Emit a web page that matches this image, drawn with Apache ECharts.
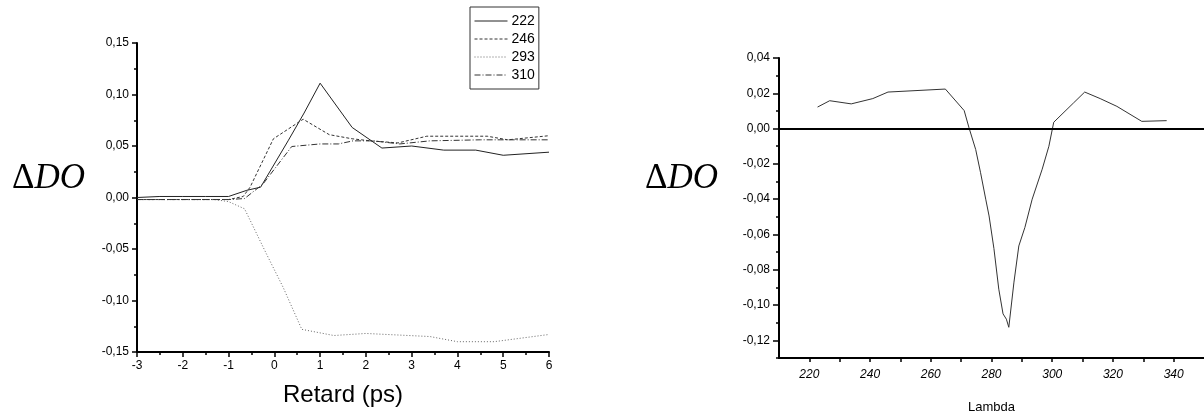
<!DOCTYPE html>
<html>
<head>
<meta charset="utf-8">
<script src="https://cdn.jsdelivr.net/npm/echarts@6/dist/echarts.min.js"></script>
<style>
html,body{margin:0;padding:0;background:#fff;}
#c{width:1204px;height:419px;}
</style>
</head>
<body>
<div id="c"></div>
<script>
// Left panel: kinetics, [delay (ps), ΔDO]
const seriesNames = ['222', '246', '293', '310'];
const s222 = [[-3,0],[-2.5,0.001],[-2,0.001],[-1.5,0.001],[-1,0.001],[-0.6,0.007],[-0.3,0.010],[0.3,0.055],[0.65,0.082],[1.0,0.111],[1.7,0.068],[2.35,0.048],[3.0,0.050],[3.7,0.046],[4.4,0.046],[5.0,0.041],[6.0,0.044]];
const s246 = [[-3,-0.002],[-2,-0.002],[-1,-0.002],[-0.68,0.001],[-0.53,0.010],[-0.02,0.057],[0.63,0.076],[1.2,0.061],[1.7,0.057],[2.1,0.055],[2.7,0.053],[3.33,0.0595],[4.65,0.0595],[5.1,0.056],[6.0,0.060]];
const s293 = [[-3,-0.002],[-2,-0.002],[-1.3,-0.002],[-1,-0.004],[-0.65,-0.011],[-0.17,-0.055],[0.19,-0.087],[0.6,-0.128],[1.3,-0.134],[2.0,-0.132],[3.4,-0.135],[4.0,-0.140],[4.8,-0.140],[6.0,-0.133]];
const s310 = [[-3,-0.002],[-1,-0.002],[-0.65,-0.001],[-0.25,0.013],[0.38,0.0495],[1.0,0.052],[1.4,0.052],[1.72,0.055],[2.16,0.055],[2.74,0.052],[3.4,0.055],[4.5,0.056],[6.0,0.056]];

// Right panel: spectrum, [lambda, ΔDO]
const spectrum = [[222.7,0.0122],[226.7,0.0158],[233.8,0.014],[240.9,0.017],[245.9,0.0207],[264.8,0.0224],[271,0.0102],[272.6,0.0004],[274.8,-0.0119],[276.4,-0.025],[278.1,-0.040],[279.2,-0.0495],[280.8,-0.068],[282.4,-0.091],[283.8,-0.105],[284.9,-0.108],[285.7,-0.1126],[287.4,-0.087],[289,-0.0665],[291,-0.056],[293.4,-0.040],[296.7,-0.023],[298.9,-0.010],[300.5,0.0036],[307,0.0145],[310.7,0.0207],[315.8,0.017],[321.3,0.0126],[329.5,0.0041],[337.7,0.0045]];

const rightMajorY = [-0.12,-0.10,-0.08,-0.06,-0.04,-0.02,0,0.02,0.04];

const comma = v => v.toFixed(2).replace('.', ',');
const FONT = 'Liberation Sans';

const chart = echarts.init(document.getElementById('c'), null, {renderer:'canvas'});

const axisLine = {show:true, onZero:false, lineStyle:{color:'#000', width:2}};

const option = {
  backgroundColor:'#fff',
  animation:false,
  textStyle:{fontFamily:FONT, color:'#000'},
  legend:{
    data:seriesNames,
    orient:'vertical',
    left:470, top:7,
    padding:[7,4,7,4],
    itemGap:4,
    itemWidth:33, itemHeight:14,
    borderColor:'#333', borderWidth:1,
    itemStyle:{opacity:0},
    lineStyle:{width:1},
    textStyle:{fontFamily:FONT, fontSize:14, color:'#000', padding:[0,0,0,-1]}
  },
  grid:[
    {left:137, top:43, width:412, height:309},
    {left:779, top:58, width:425, height:301}
  ],
  xAxis:[
    {gridIndex:0, type:'value', min:-3, max:6, interval:1,
     name:'Retard (ps)', nameLocation:'middle', nameGap:31,
     nameTextStyle:{fontFamily:FONT, fontSize:24, color:'#000'},
     axisLine:axisLine,
     axisTick:{show:true, inside:false, length:5, lineStyle:{color:'#000', width:1.5}},
     minorTick:{show:true, splitNumber:2, length:3, lineStyle:{color:'#000', width:1.5}},
     axisLabel:{fontFamily:FONT, fontSize:12, color:'#000', margin:8},
     splitLine:{show:false}},
    {gridIndex:1, type:'value', min:210, max:350, interval:10,
     name:'Lambda', nameLocation:'middle', nameGap:43,
     nameTextStyle:{fontFamily:FONT, fontSize:13, color:'#000'},
     axisLine:axisLine,
     axisTick:{show:true, inside:false, length:4, lineStyle:{color:'#000', width:1.5}},
     axisLabel:{fontFamily:FONT, fontSize:12, fontStyle:'italic', color:'#000', margin:11,
       showMinLabel:false, showMaxLabel:false,
       formatter:v => (Math.round(v) % 20 === 0 ? String(Math.round(v)) : '')},
     splitLine:{show:false}}
  ],
  yAxis:[
    {gridIndex:0, type:'value', min:-0.15, max:0.15, interval:0.05,
     axisLine:axisLine,
     axisTick:{show:true, inside:false, length:5, lineStyle:{color:'#000', width:1.5}},
     minorTick:{show:true, splitNumber:2, length:3, lineStyle:{color:'#000', width:1.5}},
     axisLabel:{fontFamily:FONT, fontSize:12, color:'#000', margin:8, formatter:comma},
     splitLine:{show:false}},
    {gridIndex:1, type:'value', min:-0.13, max:0.04, interval:0.01,
     axisLine:axisLine,
     axisTick:{show:true, inside:false, length:6, customValues:rightMajorY, lineStyle:{color:'#000', width:1.5}},
     axisLabel:{fontFamily:FONT, fontSize:12, color:'#000', margin:9, customValues:rightMajorY,
       formatter:comma},
     splitLine:{show:false}},
    {gridIndex:1, type:'value', min:-0.13, max:0.04, interval:0.01, position:'left', offset:0,
     axisLine:{show:false},
     axisTick:{show:true, inside:false, length:3, lineStyle:{color:'#000', width:1.5}},
     axisLabel:{show:false},
     splitLine:{show:false}}
  ],
  series:[
    {name:'222', type:'line', xAxisIndex:0, yAxisIndex:0, data:s222, symbol:'none',
     lineStyle:{color:'#222', width:1, type:'solid'}, itemStyle:{color:'#222'}},
    {name:'246', type:'line', xAxisIndex:0, yAxisIndex:0, data:s246, symbol:'none',
     lineStyle:{color:'#333', width:1, type:[3,2]}, itemStyle:{color:'#333'}},
    {name:'293', type:'line', xAxisIndex:0, yAxisIndex:0, data:s293, symbol:'none',
     lineStyle:{color:'#666', width:1, type:[1,2]}, itemStyle:{color:'#666'}},
    {name:'310', type:'line', xAxisIndex:0, yAxisIndex:0, data:s310, symbol:'none',
     lineStyle:{color:'#333', width:1, type:[6,2,1,2]}, itemStyle:{color:'#333'}},
    {name:'spectrum', type:'line', xAxisIndex:1, yAxisIndex:1, data:spectrum, symbol:'none',
     lineStyle:{color:'#333', width:1},
     markLine:{silent:true, symbol:'none', label:{show:false},
       lineStyle:{color:'#000', width:2, type:'solid'},
       data:[{yAxis:0}]}}
  ],
  graphic:[
    {type:'text', left:12, top:161,
     style:{text:'{d|Δ}{i|DO}', rich:{
       d:{fontFamily:'Liberation Serif', fontSize:35, fontStyle:'normal', fill:'#000'},
       i:{fontFamily:'Liberation Serif', fontSize:35, fontStyle:'italic', fill:'#000'}}}},
    {type:'text', left:645, top:161,
     style:{text:'{d|Δ}{i|DO}', rich:{
       d:{fontFamily:'Liberation Serif', fontSize:35, fontStyle:'normal', fill:'#000'},
       i:{fontFamily:'Liberation Serif', fontSize:35, fontStyle:'italic', fill:'#000'}}}}
  ]
};
chart.setOption(option);
</script>
</body>
</html>
